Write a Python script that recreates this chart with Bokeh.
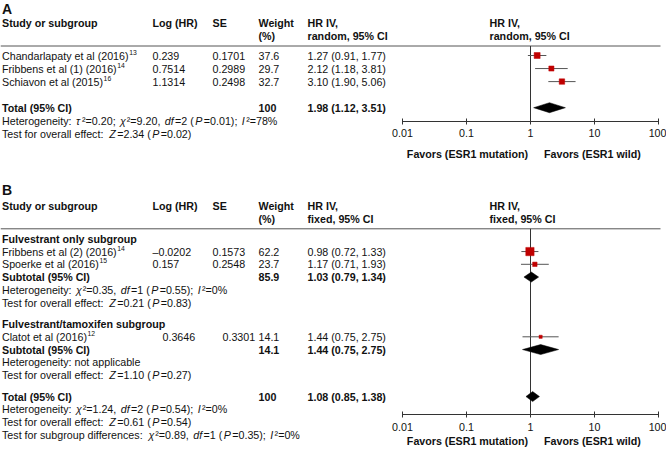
import math
from bokeh.plotting import figure
from bokeh.models import Range1d, LogScale, LogAxis, FixedTicker, CustomJSTickFormatter, ColumnDataSource
from bokeh.core.properties import value
from bokeh.embed import file_html
from bokeh.resources import INLINE

# ---------------- data: panel A (random effects) ----------------
a_study = ["Chandarlapaty et al (2016)", "Fribbens et al (1) (2016)", "Schiavon et al (2015)"]
a_ref = ["13", "14", "16"]
a_loghr = [0.239, 0.7514, 1.1314]
a_se = [0.1701, 0.2989, 0.2498]
a_weight = [37.6, 29.7, 32.7]
a_hr = [1.27, 2.12, 3.10]
a_lo = [0.91, 1.18, 1.90]
a_hi = [1.77, 3.81, 5.06]
a_total = [100, 1.98, 1.12, 3.51]          # weight, HR, lower, upper
a_het = ["0.20", "9.20", "2", "0.01", "78"]  # tau2, chi2, df, P, I2
a_test = ["2.34", "0.02"]                    # Z, P

# ---------------- data: panel B (fixed effects) ----------------
b1_name = "Fulvestrant only subgroup"
b1_study = ["Fribbens et al (2) (2016)", "Spoerke et al (2016)"]
b1_ref = ["14", "15"]
b1_loghr = [-0.0202, 0.157]
b1_se = [0.1573, 0.2548]
b1_weight = [62.2, 23.7]
b1_hr = [0.98, 1.17]
b1_lo = [0.72, 0.71]
b1_hi = [1.33, 1.93]
b1_sub = [85.9, 1.03, 0.79, 1.34]
b1_het = ["0.35", "1", "0.55", "0"]          # chi2, df, P, I2
b1_test = ["0.21", "0.83"]

b2_name = "Fulvestrant/tamoxifen subgroup"
b2_study = ["Clatot et al (2016)"]
b2_ref = ["12"]
b2_loghr = [0.3646]
b2_se = [0.3301]
b2_weight = [14.1]
b2_hr = [1.44]
b2_lo = [0.75]
b2_hi = [2.75]
b2_sub = [14.1, 1.44, 0.75, 2.75]
b2_het_text = "not applicable"
b2_test = ["1.10", "0.27"]

b_total = [100, 1.08, 0.85, 1.38]
b_het = ["1.24", "2", "0.54", "0"]
b_test = ["0.61", "0.54"]
b_subdiff = ["0.89", "1", "0.35", "0"]

axis_ticks = [0.01, 0.1, 1, 10, 100]
null_hr = 1
fav_left = "Favors (ESR1 mutation)"
fav_right = "Favors (ESR1 wild)"

# ---------------- layout (pixel units) ----------------
W, H = 666, 448
FS = 10.7                    # body font size
FONT = "Liberation Sans"
TXT = "#111111"
RULE = "#555555"
RED = "#c00000"

COL_STUDY, COL_LOG, COL_SE, COL_W, COL_HR, COL_FP = 1.5, 152, 212, 258, 307, 489
FP_L, FP_R = 402.0, 658.0    # where 0.01 and 100 sit
RULE_X0, RULE_X1 = 0.0, 660.0

p = figure(width=W, height=H, x_range=Range1d(0, W), y_range=Range1d(H, 0),
           output_backend="svg", toolbar_location=None, x_axis_type=None, y_axis_type=None,
           min_border=0, outline_line_color=None, background_fill_color="white")

dec = (FP_R - FP_L) / (math.log10(axis_ticks[-1]) - math.log10(axis_ticks[0]))
lo_exp = math.log10(axis_ticks[0]) - FP_L / dec
hi_exp = math.log10(axis_ticks[-1]) + (W - FP_R) / dec
p.extra_x_ranges = {"hr": Range1d(10 ** lo_exp, 10 ** hi_exp)}
p.extra_x_scales = {"hr": LogScale()}

AW = {' ': 278, '%': 889, '(': 333, ')': 333, ',': 278, '.': 278, '/': 278, ':': 278, ';': 278, '=': 584,
      'A': 667, 'C': 722, 'D': 722, 'F': 611, 'H': 722, 'I': 278, 'P': 667, 'S': 667, 'T': 611, 'Z': 611,
      'a': 556, 'b': 556, 'c': 500, 'd': 556, 'e': 556, 'f': 278, 'g': 556, 'h': 556, 'i': 222, 'k': 500,
      'l': 222, 'm': 833, 'n': 556, 'o': 556, 'p': 556, 'r': 333, 's': 500, 't': 278, 'u': 556, 'v': 500,
      'x': 500, 'y': 500, '\u00b2': 333, '\u03c4': 440, '\u03c7': 500}


def tw(s, size=FS):
    return sum(AW.get(c, 556) for c in s) * size / 1000.0


groups = {}


def put(x, y, s, style="normal", size=FS, align="left", rng="default", xoff=0.0):
    key = (style, size, align, rng, xoff)
    g = groups.setdefault(key, dict(x=[], y=[], t=[]))
    g["x"].append(x)
    g["y"].append(y)
    g["t"].append(s)


def segs_line(x, y, segs, gap=0.0):
    for s, it in segs:
        put(x, y, s, style="italic" if it else "normal")
        x += tw(s) + gap


def het_segs(chi2, df, pv, i2, tau2=None, lead="Heterogeneity: "):
    segs = [(lead, 0)]
    if tau2 is not None:
        segs += [("\u03c4", 1), ("\u00b2=%s; " % tau2, 0)]
    segs += [("\u03c7", 1), ("\u00b2=%s, " % chi2, 0), ("df", 1), ("=%s (" % df, 0), ("P", 1),
             ("=%s); " % pv, 0), ("I", 1), ("\u00b2=%s%%" % i2, 0)]
    return segs


def test_segs(z, pv, lead="Test for overall effect: "):
    return [(lead, 0), ("Z", 1), ("=%s (" % z, 0), ("P", 1), ("=%s)" % pv, 0)]


def num(v):
    return str(v).replace("-", "\u2013")


def ci(hr, lo, hi):
    return "%.2f (%.2f, %.2f)" % (hr, lo, hi)


def header(label, ylab, y1, y2, yrule, model):
    put(1.5, ylab, label, style="bold", size=14)
    put(COL_STUDY, y1, "Study or subgroup", style="bold")
    put(COL_LOG, y1, "Log (HR)", style="bold")
    put(COL_SE, y1, "SE", style="bold")
    put(COL_W, y1, "Weight", style="bold")
    put(COL_W, y2, "(%)", style="bold")
    for cx in (COL_HR, COL_FP):
        put(cx, y1, "HR IV,", style="bold")
        put(cx, y2, "%s, 95%% CI" % model, style="bold")
    rules_y.append(yrule)


def study_rows(names, refs, loghr, se, weight, hr, lo, hi, ys, shift=0.0):
    for i, y in enumerate(ys):
        put(COL_STUDY, y, names[i])
        put(COL_STUDY + tw(names[i]) + 0.5, y - 3.4, refs[i], size=6.8)
        put(COL_LOG + shift, y, num(loghr[i]))
        put(COL_SE + shift, y, num(se[i]))
        put(COL_W, y, num(weight[i]))
        put(COL_HR, y, ci(hr[i], lo[i], hi[i]))
    studies.append(dict(hr=hr, lo=lo, hi=hi, w=weight, y=ys))


def total_row(label, tot, y):
    put(COL_STUDY, y, label, style="bold")
    put(COL_W, y, num(tot[0]), style="bold")
    put(COL_HR, y, ci(tot[1], tot[2], tot[3]), style="bold")
    diamonds.append((tot[1], tot[2], tot[3], y))


def axis_block(y_axis, y_fav, y_top):
    axes_y.append(y_axis)
    nulls.append((y_top, y_axis))
    put(null_hr, y_fav, fav_left, style="bold", align="right", rng="hr", xoff=-2.5)
    put(null_hr, y_fav, fav_right, style="bold", align="left", rng="hr", xoff=13.5)


rules_y, studies, diamonds, axes_y, nulls = [], [], [], [], []
STAT_GAP = 1.4

# ---- panel A ----
A_ROW0, A_LH = 55.0, 13.05
ya = [A_ROW0 + k * A_LH for k in range(7)]
header("A", 8.0, 22.7, 35.7, 45.5, "random")
study_rows(a_study, a_ref, a_loghr, a_se, a_weight, a_hr, a_lo, a_hi, ya[0:3])
total_row("Total (95% CI)", a_total, ya[4])
segs_line(COL_STUDY, ya[5], het_segs(a_het[1], a_het[2], a_het[3], a_het[4], tau2=a_het[0]), STAT_GAP)
segs_line(COL_STUDY, ya[6], test_segs(*a_test), STAT_GAP)
axis_block(120.7, 153.3, 45.5)

# ---- panel B ----
B_ROW0, B_LH, B_GAP = 238.3, 12.75, 21.5
g1 = [B_ROW0 + k * B_LH for k in range(6)]
g2 = [g1[-1] + B_GAP + k * B_LH for k in range(5)]
g3 = [g2[-1] + B_GAP + k * B_LH for k in range(4)]
header("B", 189.0, 205.5, 218.0, 228.3, "fixed")
put(COL_STUDY, g1[0], b1_name, style="bold")
study_rows(b1_study, b1_ref, b1_loghr, b1_se, b1_weight, b1_hr, b1_lo, b1_hi, g1[1:3])
total_row("Subtotal (95% CI)", b1_sub, g1[3])
segs_line(COL_STUDY, g1[4], het_segs(*b1_het), STAT_GAP)
segs_line(COL_STUDY, g1[5], test_segs(*b1_test), STAT_GAP)
put(COL_STUDY, g2[0], b2_name, style="bold")
study_rows(b2_study, b2_ref, b2_loghr, b2_se, b2_weight, b2_hr, b2_lo, b2_hi, g2[1:2], shift=10)
total_row("Subtotal (95% CI)", b2_sub, g2[2])
put(COL_STUDY, g2[3], "Heterogeneity: " + b2_het_text)
segs_line(COL_STUDY, g2[4], test_segs(*b2_test), STAT_GAP)
total_row("Total (95% CI)", b_total, g3[0])
segs_line(COL_STUDY, g3[1], het_segs(*b_het), STAT_GAP)
segs_line(COL_STUDY, g3[2], test_segs(*b_test), STAT_GAP)
segs_line(COL_STUDY, g3[3], het_segs(*b_subdiff, lead="Test for subgroup differences: "), STAT_GAP)
axis_block(414.3, 440.0, 228.3)

# ---- rules ----
p.segment(x0=[RULE_X0] * len(rules_y), x1=[RULE_X1] * len(rules_y), y0=rules_y, y1=rules_y,
          line_color=RULE, line_width=1)

# ---- null lines ----
p.segment(x0=[null_hr] * len(nulls), x1=[null_hr] * len(nulls), y0=[n[0] for n in nulls],
          y1=[n[1] for n in nulls], x_range_name="hr", line_color="#333333", line_width=1)

# ---- study estimates ----
for st in studies:
    src = ColumnDataSource(dict(hr=st["hr"], lo=st["lo"], hi=st["hi"], y=st["y"],
                                size=[0.567 * w ** 0.65 for w in st["w"]]))
    p.segment(x0="lo", x1="hi", y0="y", y1="y", source=src, x_range_name="hr",
              line_color="#555555", line_width=1)
    p.scatter(x="hr", y="y", size="size", marker="square", source=src, x_range_name="hr",
              fill_color=RED, line_color=RED, line_width=0.5)

# ---- pooled diamonds ----
DH = 5.0
p.patches(xs=[[d[1], d[0], d[2], d[0]] for d in diamonds],
          ys=[[d[3], d[3] - DH, d[3], d[3] + DH] for d in diamonds],
          x_range_name="hr", fill_color="black", line_color="black", line_width=0.5)

# ---- axes ----
for ya_ in axes_y:
    ax = LogAxis(x_range_name="hr", fixed_location=ya_, bounds=(axis_ticks[0], axis_ticks[-1]),
                 ticker=FixedTicker(ticks=axis_ticks, minor_ticks=[]),
                 formatter=CustomJSTickFormatter(code="return tick.toString()"))
    ax.axis_line_color = "#333333"
    ax.axis_line_width = 1
    ax.major_tick_line_color = "#333333"
    ax.major_tick_in = 3
    ax.major_tick_out = 3
    ax.minor_tick_line_color = None
    ax.major_label_text_font = FONT
    ax.major_label_text_font_size = "%.2fpx" % FS
    ax.major_label_text_color = TXT
    ax.major_label_standoff = 5
    p.add_layout(ax, "below")

# ---- texts ----
for (style, size, align, rng, xoff), g in groups.items():
    p.text(x=g["x"], y=g["y"], text=g["t"], x_range_name=rng, x_offset=xoff,
           text_font=value(FONT), text_font_size="%.2fpx" % size, text_font_style=style,
           text_align=align, text_baseline="middle", text_color=TXT)

open("out.html", "w").write(file_html(p, INLINE))
